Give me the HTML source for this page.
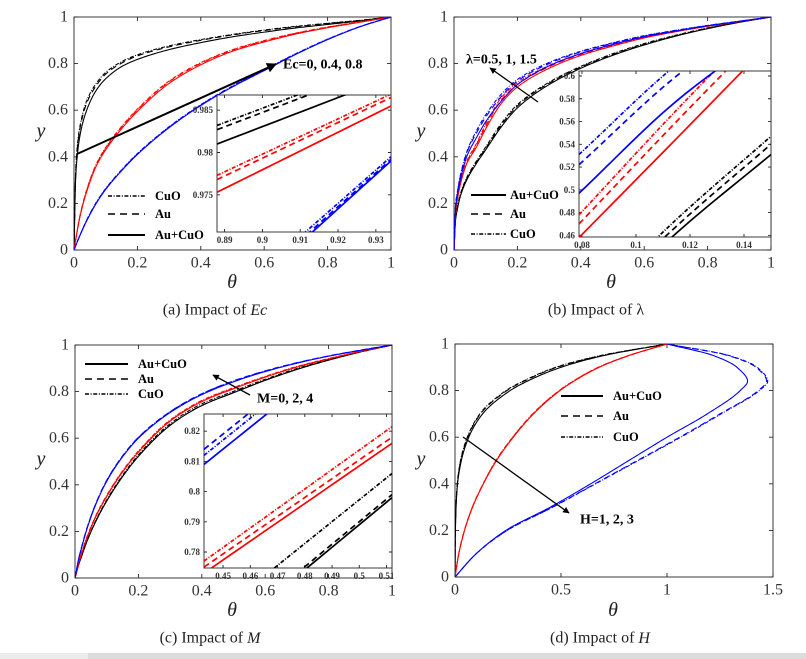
<!DOCTYPE html>
<html><head><meta charset="utf-8"><style>
html,body{margin:0;padding:0;background:#fff;}
svg{display:block;font-family:"Liberation Serif",serif;}
.tk{font-size:16px;fill:#333;}
.itk{font-size:9px;font-weight:bold;fill:#333;}
.lg{font-size:12.5px;font-weight:bold;fill:#000;}
.ann{font-size:14px;font-weight:bold;fill:#000;}
.cap{font-size:16px;fill:#222;}
.ax{font-size:20px;font-style:italic;fill:#222;}
</style></head><body>
<svg id="fig" width="806" height="659" viewBox="0 0 806 659" xmlns="http://www.w3.org/2000/svg">
<defs>
<marker id="ah" viewBox="0 0 10 10" refX="9" refY="5" markerWidth="5" markerHeight="5" orient="auto"><path d="M0,0 L10,5 L0,10 z" fill="#000"/></marker>
</defs>
<rect x="0" y="653" width="806" height="6" fill="#dcdcdc"/>
<rect x="0" y="653" width="88" height="6" fill="#ececec"/>
</svg>
<script>
// ---------- data ----------
const xTicks01 = [0,0.2,0.4,0.6,0.8,1];
const xTickLabels01 = ['0','0.2','0.4','0.6','0.8','1'];
const xTicksD = [0,0.5,1,1.5];
const xTickLabelsD = ['0','0.5','1','1.5'];
const yTicks = [0,0.2,0.4,0.6,0.8,1];
const yTickLabels = ['0','0.2','0.4','0.6','0.8','1'];

const thetaGrid = [0,0.005,0.01,0.02,0.04,0.07,0.1,0.15,0.2,0.3,0.4,0.5,0.6,0.7,0.8,0.9,1];
const yGridD = [0,0.1,0.2,0.3,0.4,0.5,0.6,0.7,0.8,0.84,0.9,0.95,1];

// panel a (y at thetaGrid)
const aBlackSolid = [0,0.30,0.40,0.50,0.60,0.685,0.735,0.787,0.818,0.86,0.89,0.915,0.935,0.953,0.968,0.983,1];
const aBlackDash  = [0,0.32,0.43,0.53,0.63,0.705,0.755,0.802,0.833,0.872,0.90,0.923,0.942,0.958,0.972,0.985,1];
const aBlackCuO   = [0,0.33,0.44,0.54,0.64,0.715,0.762,0.808,0.838,0.876,0.903,0.925,0.944,0.96,0.973,0.9855,1];
const aRedSolid   = [0,0.04,0.08,0.15,0.25,0.36,0.43,0.52,0.595,0.715,0.795,0.853,0.893,0.927,0.954,0.977,1];
const aRedDash    = [0,0.041,0.082,0.153,0.255,0.365,0.436,0.527,0.602,0.722,0.801,0.858,0.897,0.93,0.956,0.978,1];
const aRedCuO     = [0,0.042,0.083,0.155,0.258,0.368,0.44,0.53,0.605,0.725,0.804,0.86,0.899,0.931,0.957,0.979,1];
const aBlueSolid  = [0,0.017,0.034,0.066,0.125,0.20,0.26,0.34,0.41,0.525,0.62,0.70,0.77,0.84,0.903,0.957,1];
const aBlueDash   = [0,0.017,0.034,0.067,0.127,0.202,0.262,0.342,0.412,0.527,0.622,0.702,0.772,0.841,0.904,0.958,1];
const aBlueCuO    = [0,0.018,0.035,0.068,0.129,0.204,0.264,0.344,0.414,0.529,0.624,0.704,0.774,0.843,0.905,0.958,1];
// panel a inset (y at insetAX)
const insetAX = [0.888,0.934];
const iaBlackSolid = [0.9810,0.9889];
const iaBlackDash  = [0.9827,0.9905];
const iaBlackCuO   = [0.9832,0.9910];
const iaRedSolid   = [0.9753,0.9855];
const iaRedDash    = [0.9768,0.9865];
const iaRedCuO     = [0.9773,0.9869];
const iaBlueSolid  = [0.9604,0.9790];
const iaBlueDash   = [0.9608,0.9792];
const iaBlueCuO    = [0.9614,0.9795];

// panel b
const bBlackSolid = [0,0.13,0.17,0.23,0.30,0.37,0.43,0.53,0.61,0.71,0.78,0.835,0.88,0.918,0.95,0.977,1];
const bBlackDash  = [0,0.135,0.175,0.235,0.305,0.375,0.436,0.538,0.618,0.716,0.785,0.839,0.883,0.92,0.952,0.978,1];
const bBlackCuO   = [0,0.14,0.18,0.24,0.31,0.38,0.442,0.545,0.624,0.72,0.788,0.842,0.886,0.922,0.953,0.978,1];
const bRedSolid   = [0,0.16,0.21,0.28,0.37,0.44,0.52,0.63,0.70,0.78,0.835,0.875,0.91,0.937,0.96,0.98,1];
const bRedDash    = [0,0.165,0.215,0.285,0.375,0.45,0.53,0.645,0.71,0.787,0.84,0.879,0.912,0.939,0.961,0.98,1];
const bRedCuO     = [0,0.17,0.22,0.29,0.38,0.455,0.54,0.655,0.718,0.792,0.843,0.881,0.914,0.94,0.962,0.981,1];
const bBlueSolid  = [0,0.18,0.23,0.30,0.40,0.48,0.55,0.64,0.71,0.79,0.843,0.882,0.915,0.94,0.962,0.981,1];
const bBlueDash   = [0,0.19,0.24,0.315,0.415,0.50,0.57,0.66,0.725,0.80,0.85,0.887,0.918,0.942,0.963,0.982,1];
const bBlueCuO    = [0,0.195,0.245,0.32,0.42,0.51,0.58,0.67,0.732,0.805,0.853,0.889,0.92,0.943,0.964,0.982,1];
const insetBX = [0.0789,0.115,0.15];
const ibBlackSolid = [0.380,0.462,0.531];
const ibBlackDash  = [0.385,0.468,0.540];
const ibBlackCuO   = [0.390,0.474,0.547];
const ibRedSolid   = [0.458,0.545,0.630];
const ibRedDash    = [0.470,0.560,0.645];
const ibRedCuO     = [0.478,0.570,0.655];
const ibBlueSolid  = [0.497,0.578,0.640];
const ibBlueDash   = [0.522,0.600,0.660];
const ibBlueCuO    = [0.531,0.610,0.670];

// panel c
const cBlackSolid = [0,0.025,0.05,0.09,0.165,0.255,0.33,0.435,0.522,0.655,0.74,0.795,0.848,0.895,0.935,0.97,1];
const cBlackDash  = [0,0.0255,0.051,0.091,0.166,0.256,0.331,0.436,0.523,0.656,0.741,0.796,0.849,0.896,0.935,0.97,1];
const cBlackCuO   = [0,0.026,0.052,0.093,0.168,0.259,0.335,0.441,0.529,0.662,0.748,0.801,0.853,0.899,0.937,0.97,1];
const cRedSolid   = [0,0.027,0.054,0.10,0.18,0.275,0.35,0.455,0.54,0.673,0.757,0.812,0.862,0.905,0.94,0.972,1];
const cRedDash    = [0,0.028,0.055,0.102,0.182,0.277,0.352,0.457,0.542,0.675,0.759,0.814,0.863,0.906,0.941,0.972,1];
const cRedCuO     = [0,0.029,0.057,0.105,0.185,0.28,0.355,0.46,0.545,0.678,0.762,0.817,0.865,0.908,0.942,0.973,1];
const cBlueSolid  = [0,0.035,0.07,0.125,0.22,0.33,0.415,0.52,0.60,0.71,0.787,0.842,0.886,0.922,0.952,0.977,1];
const cBlueDash   = [0,0.037,0.073,0.129,0.224,0.334,0.419,0.524,0.604,0.714,0.791,0.846,0.889,0.924,0.953,0.978,1];
const cBlueCuO    = [0,0.036,0.072,0.128,0.223,0.333,0.418,0.523,0.603,0.713,0.790,0.845,0.888,0.923,0.953,0.977,1];
const insetCX = [0.443,0.512];
const icBlackSolid = [0.7465,0.7980];
const icBlackDash  = [0.7475,0.7990];
const icBlackCuO   = [0.7560,0.8060];
const icRedSolid   = [0.7730,0.8160];
const icRedDash    = [0.7750,0.8180];
const icRedCuO     = [0.7770,0.8215];
const icBlueSolid  = [0.8090,0.8590];
const icBlueDash   = [0.8140,0.8640];
const icBlueCuO    = [0.8120,0.8620];

// panel d (theta at yGridD)
const dBlackSolid = [0,0.0008,0.002,0.005,0.012,0.03,0.065,0.13,0.26,0.34,0.5,0.7,1];
const dBlackDash  = [0,0.0007,0.0018,0.0045,0.011,0.027,0.06,0.12,0.245,0.325,0.48,0.69,1];
const dBlackCuO   = [0,0.0007,0.0017,0.0043,0.0105,0.026,0.058,0.117,0.24,0.32,0.475,0.685,1];
const dRedSolid   = [0,0.018,0.045,0.083,0.134,0.196,0.275,0.37,0.495,0.56,0.68,0.82,1];
const dRedDash    = [0,0.0178,0.0446,0.082,0.133,0.194,0.273,0.367,0.492,0.557,0.677,0.818,1];
const dRedCuO     = [0,0.0177,0.0444,0.0818,0.1325,0.193,0.272,0.366,0.491,0.556,0.676,0.817,1];
const dBlueSolid  = [0,0.1,0.24,0.45,0.64,0.82,1.0,1.19,1.345,1.38,1.33,1.22,1];
const dBlueDash   = [0,0.1,0.245,0.46,0.66,0.86,1.06,1.25,1.43,1.47,1.42,1.29,1];
const dBlueCuO    = [0,0.1,0.246,0.462,0.663,0.865,1.065,1.255,1.435,1.475,1.425,1.295,1];

// ---------- drawing ----------
const NS = 'http://www.w3.org/2000/svg';
const svg = document.getElementById('fig');
const RED = '#ff0000', BLUE = '#0000ff', BLK = '#000000';
const DASH = {solid:'', dash:'6,4', cuo:'4,1.6,1,1.6'};

function mk(tag, parent) { const e = document.createElementNS(NS, tag); parent.appendChild(e); return e; }

// monotone cubic (Fritsch-Carlson) interpolation of v over x; returns sampled [x,v] pairs
function monoSample(xs, vs, per) {
  const n = xs.length, d = [], m = [];
  for (let i = 0; i < n - 1; i++) d.push((vs[i+1] - vs[i]) / (xs[i+1] - xs[i]));
  m[0] = d[0]; m[n-1] = d[n-2];
  for (let i = 1; i < n - 1; i++) {
    if (d[i-1] * d[i] <= 0) m[i] = 0;
    else {
      const h0 = xs[i] - xs[i-1], h1 = xs[i+1] - xs[i];
      const w1 = 2*h1 + h0, w2 = h1 + 2*h0;
      m[i] = (w1 + w2) / (w1 / d[i-1] + w2 / d[i]);
    }
  }
  const out = [];
  for (let i = 0; i < n - 1; i++) {
    const h = xs[i+1] - xs[i];
    for (let k = 0; k < per; k++) {
      const t = k / per, t2 = t*t, t3 = t2*t;
      const v = (2*t3 - 3*t2 + 1)*vs[i] + (t3 - 2*t2 + t)*h*m[i] + (-2*t3 + 3*t2)*vs[i+1] + (t3 - t2)*h*m[i+1];
      out.push([xs[i] + t*h, v]);
    }
  }
  out.push([xs[n-1], vs[n-1]]);
  return out;
}

let clipId = 0;
function makeClip(x, y, w, h) {
  const defs = svg.querySelector('defs');
  const cp = mk('clipPath', defs);
  cp.setAttribute('id', 'cp' + (++clipId));
  const r = mk('rect', cp);
  r.setAttribute('x', x); r.setAttribute('y', y); r.setAttribute('width', w); r.setAttribute('height', h);
  return 'url(#cp' + clipId + ')';
}

function drawAxes(g, P, xt, xl, yt, yl, cls, tickLen, xLabOff, yLabOff) {
  const sx = v => P.x0 + (v - P.xmin) / (P.xmax - P.xmin) * (P.x1 - P.x0);
  const sy = v => P.y0 - (v - P.ymin) / (P.ymax - P.ymin) * (P.y0 - P.y1);
  const box = mk('rect', g);
  
  
  box.setAttribute('x', P.x0); box.setAttribute('y', P.y1);
  box.setAttribute('width', P.x1 - P.x0); box.setAttribute('height', P.y0 - P.y1);
  box.setAttribute('fill', P.fill || 'none'); box.setAttribute('stroke', '#262626'); box.setAttribute('stroke-width', '0.9');
  xt.forEach((v, i) => {
    const x = sx(v);
    const t = mk('path', g);
    
    
    t.setAttribute('d', 'M' + x + ',' + P.y0 + 'v' + (-tickLen) + 'M' + x + ',' + P.y1 + 'v' + tickLen);
    t.setAttribute('stroke', '#262626'); t.setAttribute('stroke-width', '0.9');
    const lb = mk('text', g);
    
    
    lb.setAttribute('x', x); lb.setAttribute('y', P.y0 + xLabOff);
    lb.setAttribute('text-anchor', 'middle'); lb.setAttribute('dominant-baseline', 'central'); lb.setAttribute('class', cls);
    lb.textContent = xl[i];
  });
  yt.forEach((v, i) => {
    const y = sy(v);
    const t = mk('path', g);
    
    
    t.setAttribute('d', 'M' + P.x0 + ',' + y + 'h' + tickLen + 'M' + P.x1 + ',' + y + 'h' + (-tickLen));
    t.setAttribute('stroke', '#262626'); t.setAttribute('stroke-width', '0.9');
    const lb = mk('text', g);
    
    
    lb.setAttribute('x', P.x0 - yLabOff); lb.setAttribute('y', y);
    lb.setAttribute('text-anchor', 'end'); lb.setAttribute('dominant-baseline', 'central'); lb.setAttribute('class', cls);
    lb.textContent = yl[i];
  });
  return {sx, sy};
}

function drawSeries(g, S, list, clip, width, byY, grid) {
  const cg = mk('g', g);
  
  
  cg.setAttribute('clip-path', clip);
  list.forEach(s => {
    let pts;
    if (byY) pts = monoSample(grid, s.v, 24).map(q => [S.sx(q[1]), S.sy(q[0])]);
    else pts = monoSample(grid, s.v, 12).map(q => [S.sx(q[0]), S.sy(q[1])]);
    const p = mk('path', cg);
    
    
    p.setAttribute('d', 'M' + pts.map(q => q[0].toFixed(2) + ',' + q[1].toFixed(2)).join(' L'));
    p.setAttribute('fill', 'none'); p.setAttribute('stroke', s.c); p.setAttribute('stroke-width', width);
    p.setAttribute('stroke-linejoin', 'round');
    if (DASH[s.d]) p.setAttribute('stroke-dasharray', DASH[s.d]);
  });
}

function txt(g, x, y, s, cls, name, anchor) {
  const t = mk('text', g);
  
  
  t.setAttribute('x', x); t.setAttribute('y', y); t.setAttribute('class', cls);
  t.setAttribute('dominant-baseline', 'central');
  if (anchor) t.setAttribute('text-anchor', anchor);
  t.textContent = s;
  return t;
}

function arrow(g, x1, y1, x2, y2, w) {
  const l = mk('line', g);
  
  
  l.setAttribute('x1', x1); l.setAttribute('y1', y1); l.setAttribute('x2', x2); l.setAttribute('y2', y2);
  l.setAttribute('stroke', '#000'); l.setAttribute('stroke-width', w); l.setAttribute('marker-end', 'url(#ah)');
}

function legend(g, x1, x2, tx, rows) {
  rows.forEach(r => {
    const l = mk('line', g);
    
    
    l.setAttribute('x1', x1); l.setAttribute('x2', x2); l.setAttribute('y1', r.y); l.setAttribute('y2', r.y);
    l.setAttribute('stroke', '#000'); l.setAttribute('stroke-width', r.d === 'solid' ? 2 : 1.6);
    if (DASH[r.d]) l.setAttribute('stroke-dasharray', r.d === 'dash' ? '7,5' : '4,1.6,1,1.6');
    txt(g, tx, r.y, r.t, 'lg', 'legend-entry');
  });
}

function series9(bs, bd, bc, rs, rd, rc, ls, ld, lc) {
  return [
    {v: bs, c: BLK, d: 'solid', name: 'black-au-cuo'}, {v: bd, c: BLK, d: 'dash', name: 'black-au'}, {v: bc, c: BLK, d: 'cuo', name: 'black-cuo'},
    {v: rs, c: RED, d: 'solid', name: 'red-au-cuo'}, {v: rd, c: RED, d: 'dash', name: 'red-au'}, {v: rc, c: RED, d: 'cuo', name: 'red-cuo'},
    {v: ls, c: BLUE, d: 'solid', name: 'blue-au-cuo'}, {v: ld, c: BLUE, d: 'dash', name: 'blue-au'}, {v: lc, c: BLUE, d: 'cuo', name: 'blue-cuo'}
  ];
}

function panel(name, P, xt, xl, mainList, grid, byY, inset, extras, ylabPos, thPos, cap) {
  const g = mk('g', svg);
  
  
  const S = drawAxes(g, P, xt, xl, yTicks, yTickLabels, 'tk', 4, 13, 6);
  drawSeries(g, S, mainList, makeClip(P.x0, P.y1 - 1, P.x1 - P.x0 + 1, P.y0 - P.y1 + 2), 1.1, byY, grid);
  extras(g);
  if (inset) {
    const ig = mk('g', g);
    
    
    const IP = inset.P;
    IP.fill = '#fff';
    const IS = drawAxes(ig, IP, inset.xt, inset.xl, inset.yt, inset.yl, 'itk', 3, 8, 4);
    drawSeries(ig, IS, inset.list, makeClip(IP.x0, IP.y1, IP.x1 - IP.x0, IP.y0 - IP.y1), 1.7, false, inset.grid);
  }
  txt(g, ylabPos[0], ylabPos[1], 'y', 'ax', 'y-axis-title', 'middle');
  txt(g, thPos[0], thPos[1], 'θ', 'ax', 'x-axis-title', 'middle');
  const c = mk('text', g);
  
  
  c.setAttribute('x', cap.x); c.setAttribute('y', cap.y); c.setAttribute('class', 'cap');
  c.setAttribute('text-anchor', 'middle'); c.setAttribute('dominant-baseline', 'central');
  c.innerHTML = cap.html;
}

// Panel a
panel('panel-a', {x0:74, x1:391, y0:250, y1:17, xmin:0, xmax:1, ymin:0, ymax:1}, xTicks01, xTickLabels01,
  series9(aBlackSolid, aBlackDash, aBlackCuO, aRedSolid, aRedDash, aRedCuO, aBlueSolid, aBlueDash, aBlueCuO), thetaGrid, false,
  {P:{x0:217, x1:391, y0:232, y1:95, xmin:0.888, xmax:0.934, ymin:0.9706, ymax:0.9868},
   xt:[0.89,0.9,0.91,0.92,0.93], xl:['0.89','0.9','0.91','0.92','0.93'], yt:[0.975,0.98,0.985], yl:['0.975','0.98','0.985'],
   grid: insetAX, list: series9(iaBlackSolid, iaBlackDash, iaBlackCuO, iaRedSolid, iaRedDash, iaRedCuO, iaBlueSolid, iaBlueDash, iaBlueCuO)},
  g => {
    arrow(g, 77, 154, 276, 64, 2);
    txt(g, 283, 65, 'Ec=0, 0.4, 0.8', 'ann', 'annotation-label');
    legend(g, 108, 145, 155, [{y:196, d:'cuo', t:'CuO'}, {y:214, d:'dash', t:'Au'}, {y:235, d:'solid', t:'Au+CuO'}]);
  }, [41, 131], [232, 282], {x:215, y:310, html:'(a) Impact of <tspan font-style="italic">Ec</tspan>'});

// Panel b
panel('panel-b', {x0:454, x1:771, y0:250, y1:17, xmin:0, xmax:1, ymin:0, ymax:1}, xTicks01, xTickLabels01,
  series9(bBlackSolid, bBlackDash, bBlackCuO, bRedSolid, bRedDash, bRedCuO, bBlueSolid, bBlueDash, bBlueCuO), thetaGrid, false,
  {P:{x0:579, x1:771, y0:237, y1:71, xmin:0.0789, xmax:0.15, ymin:0.4585, ymax:0.6044},
   xt:[0.08,0.1,0.12,0.14], xl:['0.08','0.1','0.12','0.14'], yt:[0.46,0.48,0.5,0.52,0.54,0.56,0.58,0.6], yl:['0.46','0.48','0.5','0.52','0.54','0.56','0.58','0.6'],
   grid: insetBX, list: series9(ibBlackSolid, ibBlackDash, ibBlackCuO, ibRedSolid, ibRedDash, ibRedCuO, ibBlueSolid, ibBlueDash, ibBlueCuO)},
  g => {
    arrow(g, 538, 102, 490, 68, 1.3);
    txt(g, 466, 60, 'λ=0.5, 1, 1.5', 'ann', 'annotation-label');
    legend(g, 471, 506, 510, [{y:195, d:'solid', t:'Au+CuO'}, {y:214, d:'dash', t:'Au'}, {y:234, d:'cuo', t:'CuO'}]);
  }, [421, 131], [611, 282], {x:596, y:310, html:'(b) Impact of λ'});

// Panel c
panel('panel-c', {x0:75, x1:392, y0:578, y1:345, xmin:0, xmax:1, ymin:0, ymax:1}, xTicks01, xTickLabels01,
  series9(cBlackSolid, cBlackDash, cBlackCuO, cRedSolid, cRedDash, cRedCuO, cBlueSolid, cBlueDash, cBlueCuO), thetaGrid, false,
  {P:{x0:204, x1:392, y0:568, y1:414, xmin:0.443, xmax:0.512, ymin:0.7747, ymax:0.8257},
   xt:[0.45,0.46,0.47,0.48,0.49,0.5,0.51], xl:['0.45','0.46','0.47','0.48','0.49','0.5','0.51'], yt:[0.78,0.79,0.8,0.81,0.82], yl:['0.78','0.79','0.8','0.81','0.82'],
   grid: insetCX, list: series9(icBlackSolid, icBlackDash, icBlackCuO, icRedSolid, icRedDash, icRedCuO, icBlueSolid, icBlueDash, icBlueCuO)},
  g => {
    arrow(g, 250, 395, 213, 375, 1.3);
    txt(g, 257, 399, 'M=0, 2, 4', 'ann', 'annotation-label');
    legend(g, 85, 128, 138, [{y:364, d:'solid', t:'Au+CuO'}, {y:379, d:'dash', t:'Au'}, {y:394, d:'cuo', t:'CuO'}]);
  }, [41, 459], [232, 610], {x:210, y:638, html:'(c) Impact of <tspan font-style="italic">M</tspan>'});

// Panel d
panel('panel-d', {x0:455, x1:773, y0:577, y1:344, xmin:0, xmax:1.5, ymin:0, ymax:1}, xTicksD, xTickLabelsD,
  series9(dBlackSolid, dBlackDash, dBlackCuO, dRedSolid, dRedDash, dRedCuO, dBlueSolid, dBlueDash, dBlueCuO), yGridD, true,
  null,
  g => {
    arrow(g, 463, 437, 569, 513, 1.3);
    txt(g, 580, 520, 'H=1, 2, 3', 'ann', 'annotation-label');
    legend(g, 561, 603, 613, [{y:396, d:'solid', t:'Au+CuO'}, {y:416, d:'dash', t:'Au'}, {y:437, d:'cuo', t:'CuO'}]);
  }, [421, 459], [613, 610], {x:600, y:638, html:'(d) Impact of <tspan font-style="italic">H</tspan>'});
</script>
</body></html>
